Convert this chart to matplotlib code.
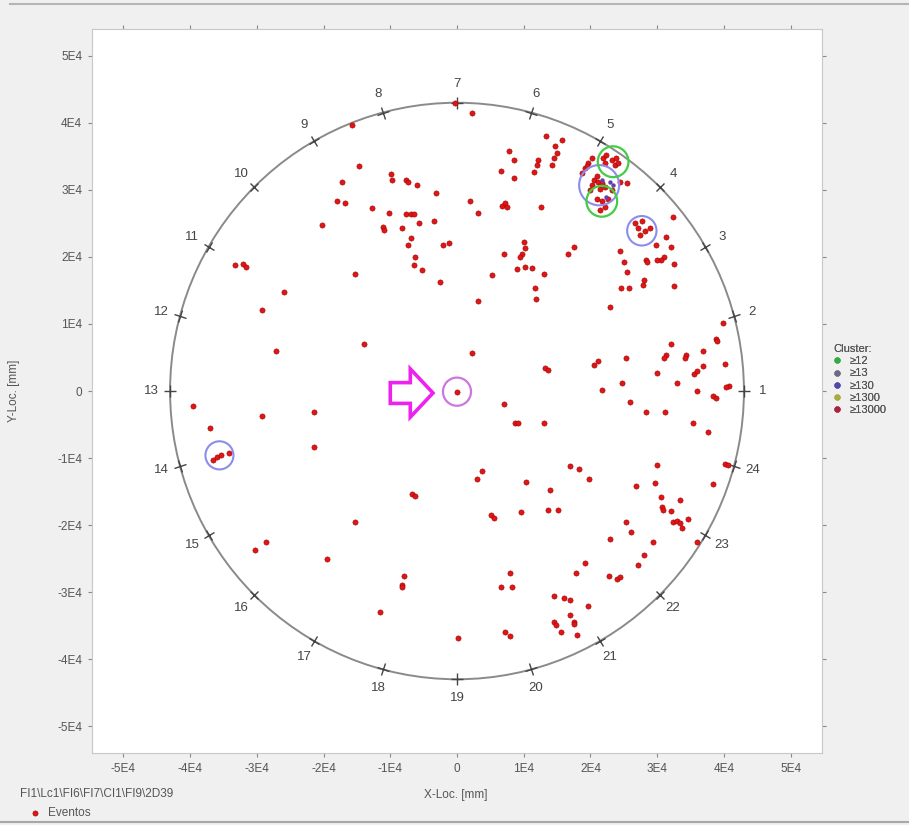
import matplotlib
matplotlib.use("Agg")
import matplotlib.pyplot as plt
from matplotlib.patches import Circle, FancyArrow
from matplotlib.markers import MarkerStyle
from matplotlib.transforms import Affine2D
from matplotlib.lines import Line2D
import numpy as np

plt.rcParams['font.family'] = ['Liberation Sans', 'DejaVu Sans']

# Ereignisse (x, y) in mm
events_x = [
    -300, -15800, -14700, -17300, -18000, -16800, -20300, -9900, -9700, -7700,
    -7400, -6000, -3200, -12700, -10200, -7600, -6900, -6400, -5700, -3500,
    -11100, -10900, -8300, -6900, -7300, -2100, -1200, -6300, -6400, -5300,
    -2500, -15300, -33300, -32100, -31600, -25900, -29200, -27200, -14000,
    2200, 13300, 15700, 7800, 8500, 14700, 15000, 14500, 14200, 12200,
    12000, 11500, 6600, 8600, 2000, 3200, 6700, 7200, 7500, 12600,
    18700, 19200, 19700, 20200, 19500, 21900, 22200, 22400, 23200, 23900,
    23700, 24200, 20000, 20200, 20500, 21000, 21200, 21700, 21500, 22200,
    23200, 24500, 25500, 21000, 21700, 22200, 21400, 22700, 26700, 27200,
    27700, 28200, 28900, 27400, 32300, 31300, 32000, 29800, 31000, 30500,
    30000, 28300, 28500, 32500, 24500, 25000, 25500, 28000, 27800, 24600,
    25800, 32500, 23000, 10000, 10200, 9700, 9500, 7000, 9000, 10200,
    11200, 13000, 5300, 11700, 11900, 3100, 16700, 17500, 39800, 38800,
    39000, 32000, 31300, 31000, 34300, 34200, 36900, 36900, 40200, 35500,
    36000, 33000, 40800, 40300, 29900, 25300, 24700, 21200, 20600, 13200,
    13700, 2200, 21800,
    -39500, -29200, -21400, -37000, -21400, -36500, -35900, -35400, -34200,
    -6800, -6300, -15300, -28600, -30200, -19500, -7900, -8300, -8200,
    -11500, 100, 0,
    26000, 28300, 31200, 36000, 38300, 38800, 35300, 37600, 7100, 8700,
    9200, 13000, 3800, 3000, 10300, 16900, 18300, 19800, 14000, 13600,
    15100, 9600, 5100, 5500, 30000, 29700, 26900, 40100, 40600, 38300,
    30600, 33400, 30700, 30900, 32100, 32300, 33000, 33400, 33700, 34600,
    25400, 26100, 22900, 29400, 36000, 28000, 27200, 19200, 17900, 22800,
    24000, 24400, 8000, 6600, 8300, 14500, 16100, 17000, 19700, 17000,
    14600, 14800, 17600, 17500, 15600, 18000, 7200, 7900,
]
events_y = [
    43000, 39700, 33600, 31200, 28400, 28100, 24800, 32400, 31500, 31500,
    31200, 30800, 29500, 27300, 26500, 26400, 26400, 26400, 25100, 25400,
    24500, 24000, 24300, 22800, 21800, 21800, 22100, 20000, 18800, 18100,
    16200, 17500, 18800, 18900, 18500, 14800, 12100, 5900, 7000,
    41500, 38000, 37500, 35800, 34500, 36500, 35500, 34700, 33700, 34500,
    33700, 32700, 32800, 31800, 28300, 26500, 27600, 28000, 27400, 27400,
    32500, 33200, 34000, 34700, 33600, 34700, 34000, 35200, 34500, 34700,
    33700, 34000, 30000, 30700, 31500, 32000, 31200, 31000, 30200, 30500,
    30000, 31200, 31000, 28700, 28300, 27500, 27000, 28700, 25000, 24300,
    25300, 23800, 24300, 23300, 26000, 23000, 21500, 21800, 20000, 19600,
    19600, 19600, 19300, 19000, 20900, 19300, 17800, 16600, 15800, 15300,
    15300, 15600, 12600, 22300, 21300, 20500, 20000, 20500, 18200, 18500,
    18300, 17500, 17300, 15400, 13700, 13400, 20500, 21500, 10200, 7700,
    7400, 7000, 5400, 4900, 5400, 4900, 6000, 3700, 4000, 2600,
    3000, 1200, 700, 600, 2700, 4900, 1200, 4500, 3900, 3400,
    3200, 5700, 100,
    -2200, -3700, -3200, -5500, -8400, -10300, -9800, -9600, -9200,
    -15300, -15600, -19600, -22500, -23700, -25000, -27600, -29000, -29300,
    -33000, -36900, -200,
    -1700, -3200, -3100, 0, -700, -1100, -4700, -6100, -2000, -4700,
    -4700, -4700, -11900, -13100, -13500, -11200, -11600, -13200, -14800, -17800,
    -17700, -18100, -18500, -18900, -11100, -13700, -14200, -10900, -11000, -13800,
    -15800, -16200, -17300, -17800, -17900, -19500, -19400, -19700, -20500, -19100,
    -19600, -21100, -22100, -22500, -22500, -24500, -26000, -25700, -27100, -27600,
    -28000, -27700, -27100, -29300, -29300, -30600, -30900, -31200, -32000, -33400,
    -34500, -34900, -34400, -34700, -36000, -36400, -35900, -36500,
]

# einige Punkte mit Cluster-Farbe
cluster_x = [21700, 22900, 22400, 23400]
cluster_y = [31500, 31200, 28900, 30700]

# Sensoren
sensor_ids = list(range(1, 25))
sensor_angles = [0, 15, 30, 45, 60, 75, 90, 105, 120, 135, 150, 165,
                 180, 195, 210, 225, 240, 255, 270, 285, 300, 315, 330, 345]
ring_radius = 43000
label_radius = 45800

# markierte Bereiche
blue_cx = [-35600, 21300, 27700]
blue_cy = [-9600, 30700, 23900]
blue_r = [2100, 3000, 2200]
green_cx = [23400, 21700]
green_cy = [34200, 28300]
green_r = [2300, 2300]

legend_labels = ['≥12', '≥13', '≥130', '≥1300', '≥13000']
legend_colors = ['#33aa44', '#6b6b88', '#5548aa', '#aaaa44', '#aa2240']

ticks = [-50000, -40000, -30000, -20000, -10000, 0, 10000, 20000, 30000, 40000, 50000]
tick_labels = ['-5E4', '-4E4', '-3E4', '-2E4', '-1E4', '0', '1E4', '2E4', '3E4', '4E4', '5E4']

fig = plt.figure(figsize=(9.09, 8.25), dpi=100, facecolor='#f0f0f0')
ax = fig.add_axes([92 / 909, 1 - 753 / 825, 730 / 909, 724 / 825])
ax.set_facecolor('white')
ax.set_xlim(-54700, 54700)
ax.set_ylim(-54000, 54000)

ax.set_xticks(ticks)
ax.set_xticklabels(tick_labels)
ax.set_yticks(ticks)
ax.set_yticklabels(tick_labels)
ax.tick_params(axis='both', direction='out', length=3, width=0.8, color='#888888',
               labelsize=8.5, labelcolor='#555555', top=True, right=True, pad=4)
for sp in ax.spines.values():
    sp.set_color('#c8c8c8')
    sp.set_linewidth(0.8)

# Ring
ax.add_patch(Circle((0, 0), ring_radius, fill=False, ec='#8a8a8a', lw=1.4, zorder=2))

for sid, ang in zip(sensor_ids, sensor_angles):
    a = np.deg2rad(ang)
    m = MarkerStyle('+', transform=Affine2D().rotate_deg(ang))
    ax.plot(ring_radius * np.cos(a), ring_radius * np.sin(a), marker=m, ms=9,
            mew=1.0, color='#444444', zorder=3)
    ax.text(label_radius * np.cos(a), label_radius * np.sin(a), str(sid),
            ha='center', va='center', fontsize=9.5, color='#444444')

sc = ax.scatter(events_x, events_y, s=14, c='#e01515', edgecolors='#a00000',
                linewidths=0.4, zorder=4, label='Eventos')
ax.scatter(cluster_x, cluster_y, s=10, c='#6040b0', linewidths=0, zorder=5)

for cx, cy, r in zip(blue_cx, blue_cy, blue_r):
    ax.add_patch(Circle((cx, cy), r, fill=False, ec='#8c8cec', lw=1.5, zorder=6))
for cx, cy, r in zip(green_cx, green_cy, green_r):
    ax.add_patch(Circle((cx, cy), r, fill=False, ec='#44cc44', lw=1.6, zorder=6))

# Pfeil auf Zentrum
ax.add_patch(Circle((0, -100), 2100, fill=False, ec='#cc77dd', lw=1.6, zorder=6))
ax.add_patch(FancyArrow(-10000, -300, 6400, 0, width=3100, head_width=7200,
                        head_length=3400, length_includes_head=True,
                        fc='white', ec='#ee22ee', lw=2.6, zorder=6))

fig.text(456 / 909, 1 - 795 / 825, 'X-Loc. [mm]', ha='center', va='center',
         fontsize=8.5, color='#555555')
fig.text(14 / 909, 1 - 391 / 825, 'Y-Loc. [mm]', ha='center', va='center',
         rotation=90, fontsize=8.5, color='#555555')
fig.text(20 / 909, 1 - 794 / 825, r'FI1\Lc1\FI6\FI7\CI1\FI9\2D39', ha='left',
         va='center', fontsize=8.5, color='#555555')

handles = [Line2D([], [], ls='none', marker='o', ms=3.5, color=c) for c in legend_colors]
leg = ax.legend(handles, legend_labels, title='Cluster:', loc='upper left',
                bbox_to_anchor=(833 / 909, 1 - 344 / 825), bbox_transform=fig.transFigure,
                frameon=False, fontsize=8, title_fontsize=8, handlelength=0.8,
                handletextpad=0.7, labelspacing=0.2, borderaxespad=0, borderpad=0,
                alignment='left')
for t in leg.get_texts():
    t.set_color('#555555')
leg.get_title().set_color('#555555')
ax.add_artist(leg)

fig.legend([sc], ['Eventos'], loc='center left',
           bbox_to_anchor=(30 / 909, 1 - 813 / 825), frameon=False, fontsize=8.5,
           handlelength=0.8, handletextpad=0.7, borderpad=0, borderaxespad=0,
           labelcolor='#555555')

fig.add_artist(Line2D([10 / 909, 1], [1 - 4 / 825, 1 - 4 / 825], color='#b5b5b5',
                      lw=1.5, transform=fig.transFigure))
fig.add_artist(Line2D([0, 1], [1 - 822 / 825, 1 - 822 / 825], color='#a8a8a8',
                      lw=1.5, transform=fig.transFigure))

fig.savefig('out.png', dpi=100, facecolor=fig.get_facecolor())
